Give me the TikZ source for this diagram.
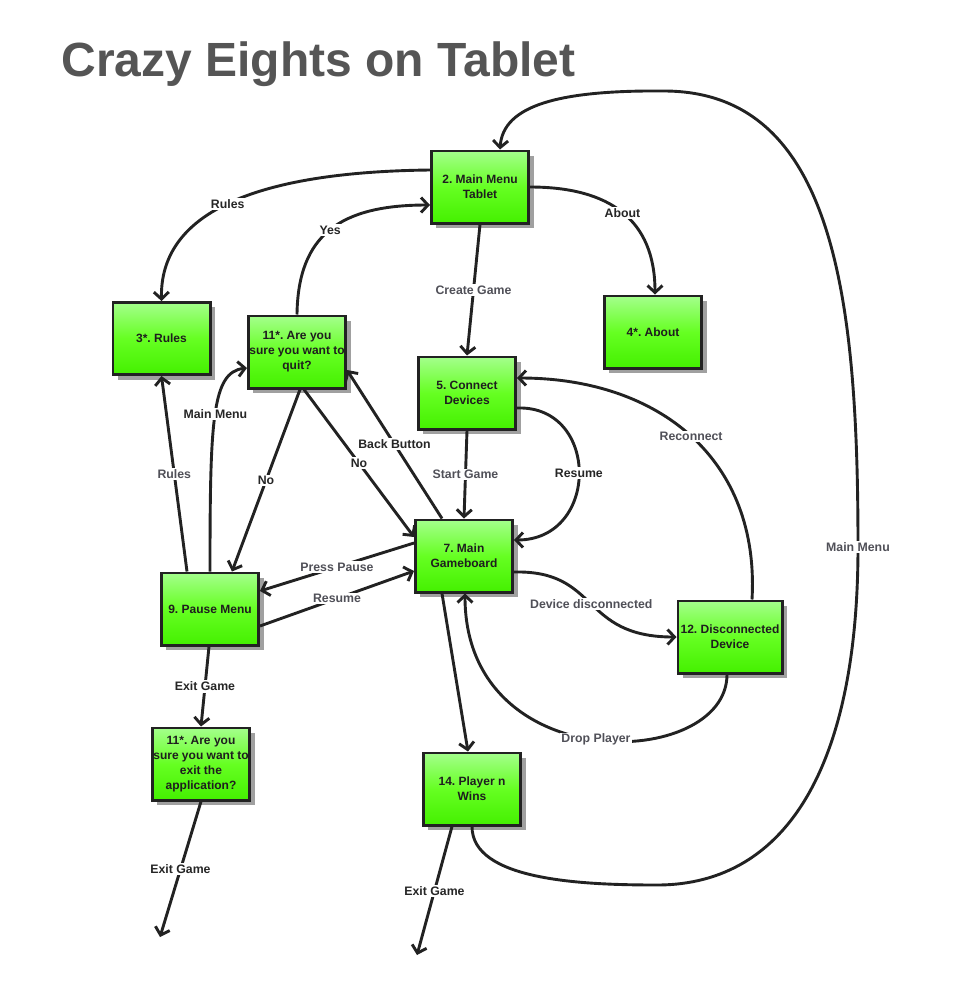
\documentclass[tikz,border=0pt]{standalone}
\usepackage{fontspec}
\setmainfont{Liberation Sans}
\usetikzlibrary{arrows.meta,shadows}
\definecolor{lineC}{HTML}{222222}
\definecolor{textC}{HTML}{1E1E1E}
\definecolor{titleC}{HTML}{555555}
\definecolor{labDark}{HTML}{262626}
\definecolor{labGray}{HTML}{505058}
\definecolor{greenTop}{HTML}{A4FF8C}
\definecolor{greenMid}{HTML}{66FF22}
\definecolor{greenBot}{HTML}{44F000}
\definecolor{shadowC}{HTML}{A0A0A0}
\frenchspacing
\begin{document}
\begin{tikzpicture}[x=1pt,y=-1pt,
  box/.style={draw=lineC, line width=2.6pt, minimum width=97.4pt, minimum height=72.4pt,
    inner sep=0pt, align=center, font=\bfseries\fontsize{12}{15}\selectfont, text=textC,
    top color=greenTop, bottom color=greenBot, middle color=greenMid,
    drop shadow={shadow xshift=5pt, shadow yshift=-5pt, fill=shadowC, opacity=1}},
  flow/.style={draw=lineC, line width=2.9pt, -{Straight Barb[length=7pt,width=15pt]}},
  lbl/.style={fill=white, inner sep=1.5pt, font=\bfseries\fontsize{12.3}{14}\selectfont, text=labDark},
  lblg/.style={lbl, text=labGray}]
\useasboundingbox (0,0) rectangle (964,989);

\node[anchor=base west, text=titleC, font=\bfseries\fontsize{48}{50}\selectfont] (title) at (58,76) {Crazy Eights on Tablet};

\node[box] (n2) at (480,187) {2. Main Menu\\Tablet};
\node[box] (n3) at (161.5,338.5) {3*. Rules};
\node[box] (n11q) at (297,352) {11*. Are you\\sure you want to\\quit?};
\node[box] (n4) at (653,332) {4*. About};
\node[box] (n5) at (467,393) {5. Connect\\Devices};
\node[box] (n7) at (464,556) {7. Main\\Gameboard};
\node[box] (n9) at (210,609) {9. Pause Menu};
\node[box, minimum width=104.4pt] (n12) at (730,637) {12. Disconnected\\Device};
\node[box] (n11e) at (201,764) {11*. Are you\\sure you want to\\exit the\\application?};
\node[box] (n14) at (472,789) {14. Player n\\Wins};

\coordinate (e1) at (417,955);
\coordinate (e2) at (160,937);

% top area
\draw[flow] ([yshift=17pt]n2.west) .. controls (250,172) and (160,215) .. node[lbl]{Rules} (n3.north);
\draw[flow] (n11q.north) .. controls (298,235) and (340,205) .. node[lbl]{Yes} ([yshift=-18pt]n2.west);
\draw[flow] (n2.east) .. controls (610,187) and (655,220) .. node[lbl]{About} ([xshift=2pt]n4.north);
\draw[flow] (n2.south) -- node[lblg]{Create Game} (n5.north);

% connect devices
\draw[flow] (n5.south) -- node[lblg]{Start Game} (n7.north);
\draw[flow] ([yshift=-15pt]n5.east) .. controls (600,405) and (600,540) .. node[lbl]{Resume} ([yshift=16pt]n7.east);
\draw[flow] ([xshift=22pt]n12.north) .. controls (760,460) and (660,378) .. node[lblg]{Reconnect} ([yshift=15pt]n5.east);

% gameboard
\draw[flow] ([yshift=-16pt]n7.east) .. controls (600,570) and (580,637) .. node[lblg]{Device disconnected} (n12.west);
\draw[flow] ([xshift=-3pt]n12.south) .. controls (727,770) and (465,780) .. node[lblg]{Drop Player} ([xshift=1pt]n7.south);
\draw[flow] ([xshift=-22pt]n7.south) -- ([xshift=-4pt]n14.north);
\draw[flow] ([xshift=-20pt]n14.south) -- node[lbl]{Exit Game} (e1);
\draw[flow] (n14.south) .. controls (472,880) and (580,885) .. (657,885)
   .. controls (790,885) and (858,760) .. (858,547) node[lblg]{Main Menu}
   .. controls (858,300) and (835,92) .. (665,91)
   .. controls (560,90) and (503,105) .. ([xshift=20pt]n2.north);

% pause menu and quit dialog
\draw[flow] ([xshift=-23pt]n9.north) -- node[lblg]{Rules} (n3.south);
\draw[flow] (n9.north) .. controls (210,420) and (212,372) .. node[lbl]{Main Menu} ([yshift=-16pt]n11q.west);
\draw[flow] ([xshift=3pt]n11q.south) -- node[lbl]{No} ([xshift=22pt]n9.north);
\draw[flow] ([xshift=7pt]n11q.south) -- node[lbl]{No} ([yshift=19pt]n7.west);
\draw[flow] ([xshift=-22pt]n7.north) -- node[lbl]{Back Button} ([yshift=-18pt]n11q.east);
\draw[flow] ([yshift=13pt]n7.west) -- node[lblg]{Press Pause} ([yshift=18pt]n9.east);
\draw[flow] ([yshift=-17pt]n9.east) -- node[lblg]{Resume} ([yshift=-15pt]n7.west);
\draw[flow] ([xshift=-1pt]n9.south) -- node[lbl]{Exit Game} (n11e.north);
\draw[flow] (n11e.south) -- node[lbl]{Exit Game} (e2);
\end{tikzpicture}
\end{document}
